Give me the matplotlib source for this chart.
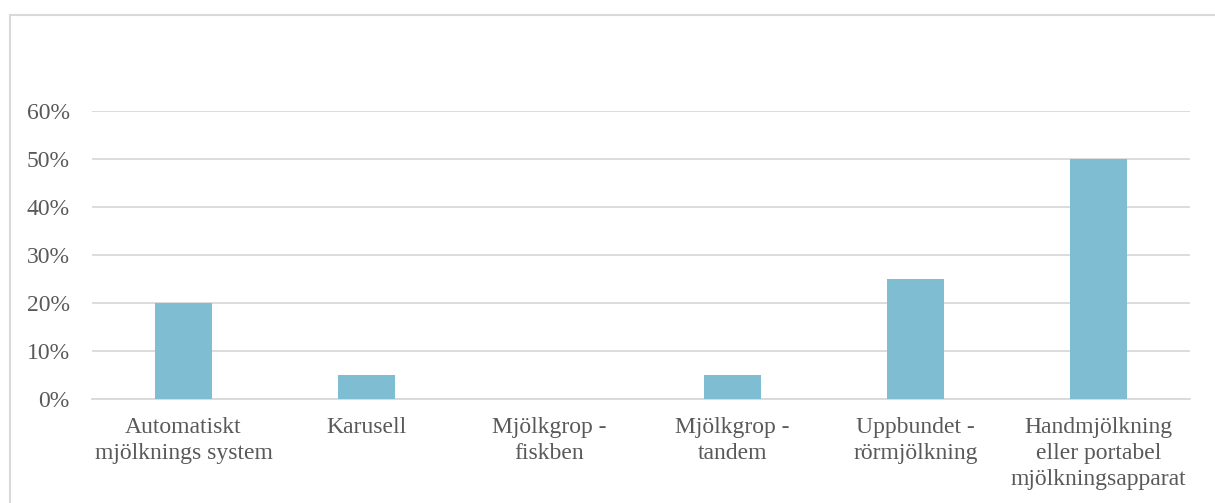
import matplotlib
import numpy as np

matplotlib.use("Agg")
import matplotlib.pyplot as plt
from matplotlib.lines import Line2D
from matplotlib.ticker import FuncFormatter, MultipleLocator

categories = [
    "Automatiskt\nmjölknings system",
    "Karusell",
    "Mjölkgrop -\nfiskben",
    "Mjölkgrop -\ntandem",
    "Uppbundet -\nrörmjölkning",
    "Handmjölkning\neller portabel\nmjölkningsapparat",
]
shares = [0.20, 0.05, 0.0, 0.05, 0.25, 0.50]

BAR_COLOR = "#7FBDD3"
TEXT_COLOR = "#595959"
GRID_COLOR = "#D9D9D9"

plt.rcParams["font.family"] = ["Liberation Serif", "DejaVu Serif"]

W, H = 1215, 503
fig = plt.figure(figsize=(W / 100, H / 100), dpi=100)
ax = fig.add_axes([92 / W, 1 - 399 / H, (1190 - 92) / W, (399 - 111) / H])

x = np.arange(len(categories))
ax.bar(x, shares, width=0.31, color=BAR_COLOR, zorder=3)

ax.set_xlim(-0.5, len(categories) - 0.5)
ax.set_ylim(0, 0.60)
ax.yaxis.set_major_locator(MultipleLocator(0.10))
ax.yaxis.set_major_formatter(FuncFormatter(lambda v, _: f"{v * 100:.0f}%"))
ax.grid(axis="y", color=GRID_COLOR, linewidth=1.3, zorder=0)
ax.set_axisbelow(True)

for side in ("top", "right", "left"):
    ax.spines[side].set_visible(False)
ax.spines["bottom"].set_color(GRID_COLOR)
ax.spines["bottom"].set_linewidth(1.3)

ax.set_xticks(x)
ax.set_xticklabels(categories, linespacing=1.3)
ax.tick_params(axis="both", length=0, labelsize=17, labelcolor=TEXT_COLOR)
ax.tick_params(axis="x", pad=13)
ax.tick_params(axis="y", pad=16)

# chart frame (left and top edges visible in the crop)
fig.add_artist(Line2D([10 / W, 10 / W], [0, 1 - 15 / H], color=GRID_COLOR, linewidth=1.5, transform=fig.transFigure))
fig.add_artist(Line2D([10 / W, 1], [1 - 15 / H, 1 - 15 / H], color=GRID_COLOR, linewidth=1.5, transform=fig.transFigure))

fig.savefig("out.png", dpi=100)
